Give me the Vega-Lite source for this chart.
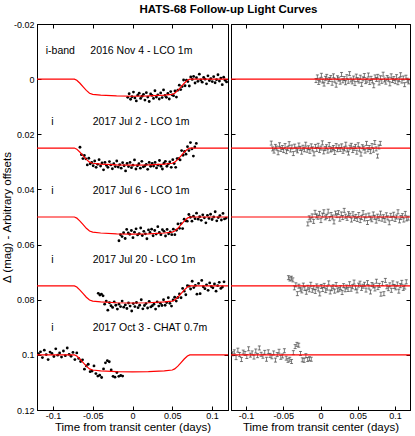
{
"$schema": "https://vega.github.io/schema/vega-lite/v6.json",
"background": "white",
"padding": {"left": 0, "top": 4, "right": 8, "bottom": 0},
"title": {"text": "HATS-68 Follow-up Light Curves", "fontSize": 11.5, "fontWeight": "bold", "font": "Liberation Sans", "color": "black", "anchor": "middle", "offset": 6, "dx": 22, "dy": 2},
"spacing": 0,
"datasets": {
"pts": [
{"t":-0.006,"y":0.0066,"r":0.0005},{"t":-0.0042,"y":0.0053,"r":-0.0008},{"t":-0.0024,"y":0.0073,"r":0.0012},{"t":-0.0006,"y":0.0064,"r":0.0003},{"t":0.0012,"y":0.0047,"r":-0.0014},{"t":0.003,"y":0.0068,"r":0.0007},{"t":0.0048,"y":0.0079,"r":0.0018},{"t":0.0066,"y":0.0058,"r":-0.0003},{"t":0.0084,"y":0.0051,"r":-0.001},{"t":0.0102,"y":0.007,"r":0.0009},{"t":0.012,"y":0.0062,"r":0.0001},{"t":0.0138,"y":0.0055,"r":-0.0006},{"t":0.0156,"y":0.0076,"r":0.0015},{"t":0.0174,"y":0.0049,"r":-0.0012},{"t":0.0192,"y":0.0065,"r":0.0004},{"t":0.021,"y":0.0081,"r":0.0022},{"t":0.0228,"y":0.0054,"r":-0.0005},{"t":0.0246,"y":0.0059,"r":0},{"t":0.0264,"y":0.007,"r":0.0011},{"t":0.0282,"y":0.0042,"r":-0.0017},{"t":0.03,"y":0.0065,"r":0.0006},{"t":0.0318,"y":0.0057,"r":-0.0002},{"t":0.0336,"y":0.0072,"r":0.0013},{"t":0.0354,"y":0.005,"r":-0.0009},{"t":0.0372,"y":0.0067,"r":0.0008},{"t":0.039,"y":0.0039,"r":-0.002},{"t":0.0408,"y":0.0059,"r":0.0003},{"t":0.0426,"y":0.0066,"r":0.001},{"t":0.0444,"y":0.0052,"r":-0.0004},{"t":0.0462,"y":0.0072,"r":0.0016},{"t":0.048,"y":0.0045,"r":-0.0011},{"t":0.0498,"y":0.0057,"r":0.0002},{"t":0.0516,"y":0.006,"r":0.0007},{"t":0.0534,"y":0.0043,"r":-0.0007},{"t":0.0552,"y":0.0065,"r":0.0019},{"t":0.057,"y":0.004,"r":-0.0001},{"t":0.0588,"y":0.0022,"r":-0.0013},{"t":0.0606,"y":0.0038,"r":0.0009},{"t":0.0624,"y":0.0027,"r":0.0004},{"t":0.0642,"y":0.0003,"r":-0.0015},{"t":0.066,"y":0.0024,"r":0.0012},{"t":0.0678,"y":0.0004,"r":-0.0003},{"t":0.0696,"y":0.0009,"r":0.0006},{"t":0.0714,"y":0.0025,"r":0.0024},{"t":0.0732,"y":-0.0008,"r":-0.0008},{"t":0.075,"y":0.0001,"r":0.0001},{"t":0.0768,"y":-0.001,"r":-0.001},{"t":0.0786,"y":0.0014,"r":0.0014},{"t":0.0804,"y":-0.0005,"r":-0.0005},{"t":0.0822,"y":0.0008,"r":0.0008},{"t":0.084,"y":-0.0018,"r":-0.0018},{"t":0.0858,"y":0.0003,"r":0.0003},{"t":0.0876,"y":0.0011,"r":0.0011},{"t":0.0894,"y":-0.0006,"r":-0.0006},{"t":0.0912,"y":0,"r":0},{"t":0.093,"y":0.0017,"r":0.0017},{"t":0.0948,"y":-0.0012,"r":-0.0012},{"t":0.0966,"y":0.0005,"r":0.0005},{"t":0.0984,"y":-0.0002,"r":-0.0002},{"t":0.1002,"y":0.0009,"r":0.0009},{"t":0.102,"y":-0.0009,"r":-0.0009},{"t":0.1038,"y":0.0013,"r":0.0013},{"t":0.1056,"y":0.0002,"r":0.0002},{"t":0.1074,"y":-0.0016,"r":-0.0016},{"t":0.1092,"y":0.0007,"r":0.0007},{"t":0.111,"y":-0.0004,"r":-0.0004},{"t":0.1128,"y":0.002,"r":0.002},{"t":0.1146,"y":-0.0007,"r":-0.0007},{"t":0.1164,"y":0.0004,"r":0.0004},{"t":0.1182,"y":0.001,"r":0.001},
{"t":-0.066,"y":0.0247,"r":0.0232},{"t":-0.0642,"y":0.0274,"r":0.0253},{"t":-0.0623,"y":0.0288,"r":0.0261},{"t":-0.0605,"y":0.0277,"r":0.0244},{"t":-0.0586,"y":0.0289,"r":0.025},{"t":-0.0568,"y":0.0311,"r":0.0267},{"t":-0.0549,"y":0.0287,"r":0.0238},{"t":-0.0531,"y":0.0307,"r":0.0255},{"t":-0.0512,"y":0.0302,"r":0.0248},{"t":-0.0494,"y":0.0314,"r":0.0259},{"t":-0.0475,"y":0.0297,"r":0.0241},{"t":-0.0457,"y":0.032,"r":0.0263},{"t":-0.0438,"y":0.0309,"r":0.0252},{"t":-0.042,"y":0.0292,"r":0.0234},{"t":-0.0401,"y":0.0315,"r":0.0257},{"t":-0.0383,"y":0.0304,"r":0.0246},{"t":-0.0364,"y":0.0329,"r":0.027},{"t":-0.0346,"y":0.0302,"r":0.0243},{"t":-0.0327,"y":0.0313,"r":0.0254},{"t":-0.0309,"y":0.032,"r":0.026},{"t":-0.029,"y":0.0299,"r":0.0239},{"t":-0.0272,"y":0.0311,"r":0.0251},{"t":-0.0253,"y":0.0325,"r":0.0265},{"t":-0.0235,"y":0.0307,"r":0.0247},{"t":-0.0216,"y":0.0317,"r":0.0256},{"t":-0.0198,"y":0.0297,"r":0.0236},{"t":-0.0179,"y":0.0319,"r":0.0258},{"t":-0.0161,"y":0.031,"r":0.0249},{"t":-0.0142,"y":0.0323,"r":0.0262},{"t":-0.0124,"y":0.0303,"r":0.0242},{"t":-0.0105,"y":0.0314,"r":0.0253},{"t":-0.0087,"y":0.0333,"r":0.0271},{"t":-0.0068,"y":0.0306,"r":0.0244},{"t":-0.005,"y":0.0317,"r":0.0255},{"t":-0.0031,"y":0.0302,"r":0.024},{"t":-0.0013,"y":0.0321,"r":0.0259},{"t":0.0006,"y":0.0312,"r":0.025},{"t":0.0025,"y":0.0293,"r":0.0231},{"t":0.0043,"y":0.0326,"r":0.0264},{"t":0.0062,"y":0.0314,"r":0.0252},{"t":0.008,"y":0.0307,"r":0.0245},{"t":0.0099,"y":0.0323,"r":0.0261},{"t":0.0117,"y":0.0298,"r":0.0237},{"t":0.0136,"y":0.0318,"r":0.0257},{"t":0.0154,"y":0.0315,"r":0.0254},{"t":0.0173,"y":0.0309,"r":0.0248},{"t":0.0191,"y":0.0327,"r":0.0266},{"t":0.021,"y":0.0302,"r":0.0241},{"t":0.0228,"y":0.0316,"r":0.0256},{"t":0.0247,"y":0.0306,"r":0.0246},{"t":0.0265,"y":0.0315,"r":0.0255},{"t":0.0284,"y":0.0302,"r":0.0242},{"t":0.0302,"y":0.0322,"r":0.0262},{"t":0.0321,"y":0.0312,"r":0.0253},{"t":0.0339,"y":0.0295,"r":0.0236},{"t":0.0358,"y":0.0316,"r":0.0257},{"t":0.0376,"y":0.0326,"r":0.0268},{"t":0.0395,"y":0.0305,"r":0.0247},{"t":0.0413,"y":0.0298,"r":0.024},{"t":0.0432,"y":0.0316,"r":0.0259},{"t":0.045,"y":0.0308,"r":0.0251},{"t":0.0469,"y":0.03,"r":0.0244},{"t":0.0487,"y":0.032,"r":0.0265},{"t":0.0506,"y":0.0292,"r":0.0238},{"t":0.0524,"y":0.0306,"r":0.0254},{"t":0.0543,"y":0.032,"r":0.0272},{"t":0.0561,"y":0.0288,"r":0.0245},{"t":0.058,"y":0.0288,"r":0.025},{"t":0.0598,"y":0.0293,"r":0.0261},{"t":0.0617,"y":0.0259,"r":0.0233},{"t":0.0635,"y":0.0276,"r":0.0256},{"t":0.0654,"y":0.0262,"r":0.0248},{"t":0.0672,"y":0.0272,"r":0.0263},{"t":0.0691,"y":0.0245,"r":0.0241},{"t":0.0709,"y":0.0259,"r":0.0258},{"t":0.0728,"y":0.023,"r":0.023},{"t":0.0746,"y":0.0253,"r":0.0253},{"t":0.0765,"y":0.0279,"r":0.0279},{"t":0.0783,"y":0.0246,"r":0.0246},{"t":0.0802,"y":0.0233,"r":0.0233},
{"t":-0.017,"y":0.0586,"r":0.0525},{"t":-0.0151,"y":0.0564,"r":0.0503},{"t":-0.0131,"y":0.0571,"r":0.051},{"t":-0.0112,"y":0.0557,"r":0.0496},{"t":-0.0092,"y":0.0578,"r":0.0516},{"t":-0.0073,"y":0.0545,"r":0.0483},{"t":-0.0053,"y":0.0558,"r":0.0496},{"t":-0.0034,"y":0.0563,"r":0.0501},{"t":-0.0014,"y":0.0549,"r":0.0487},{"t":0.0006,"y":0.0575,"r":0.0513},{"t":0.0025,"y":0.0555,"r":0.0493},{"t":0.0045,"y":0.0543,"r":0.0481},{"t":0.0064,"y":0.0565,"r":0.0503},{"t":0.0084,"y":0.056,"r":0.0498},{"t":0.0103,"y":0.054,"r":0.0479},{"t":0.0123,"y":0.0567,"r":0.0506},{"t":0.0142,"y":0.0552,"r":0.0491},{"t":0.0162,"y":0.0561,"r":0.05},{"t":0.0181,"y":0.0579,"r":0.0518},{"t":0.0201,"y":0.0547,"r":0.0486},{"t":0.022,"y":0.0556,"r":0.0495},{"t":0.024,"y":0.0544,"r":0.0484},{"t":0.0259,"y":0.0568,"r":0.0508},{"t":0.0279,"y":0.0549,"r":0.0489},{"t":0.0298,"y":0.0562,"r":0.0502},{"t":0.0318,"y":0.0535,"r":0.0476},{"t":0.0337,"y":0.0556,"r":0.0497},{"t":0.0357,"y":0.0564,"r":0.0505},{"t":0.0376,"y":0.0546,"r":0.0488},{"t":0.0396,"y":0.0552,"r":0.0494},{"t":0.0415,"y":0.0569,"r":0.0511},{"t":0.0435,"y":0.0545,"r":0.0488},{"t":0.0454,"y":0.0561,"r":0.0505},{"t":0.0474,"y":0.0554,"r":0.0498},{"t":0.0493,"y":0.0564,"r":0.0509},{"t":0.0513,"y":0.0544,"r":0.0491},{"t":0.0532,"y":0.0564,"r":0.0513},{"t":0.0552,"y":0.0548,"r":0.0502},{"t":0.0571,"y":0.0525,"r":0.0484},{"t":0.0591,"y":0.0541,"r":0.0507},{"t":0.061,"y":0.0524,"r":0.0496},{"t":0.063,"y":0.0542,"r":0.052},{"t":0.0649,"y":0.0508,"r":0.0493},{"t":0.0669,"y":0.0514,"r":0.0504},{"t":0.0688,"y":0.0515,"r":0.051},{"t":0.0708,"y":0.0491,"r":0.0489},{"t":0.0727,"y":0.0501,"r":0.0501},{"t":0.0747,"y":0.0515,"r":0.0515},{"t":0.0766,"y":0.0497,"r":0.0497},{"t":0.0786,"y":0.0506,"r":0.0506},{"t":0.0805,"y":0.0486,"r":0.0486},{"t":0.0825,"y":0.0508,"r":0.0508},{"t":0.0844,"y":0.0499,"r":0.0499},{"t":0.0864,"y":0.0512,"r":0.0512},{"t":0.0883,"y":0.0492,"r":0.0492},{"t":0.0903,"y":0.0503,"r":0.0503},{"t":0.0922,"y":0.0521,"r":0.0521},{"t":0.0942,"y":0.0494,"r":0.0494},{"t":0.0961,"y":0.0505,"r":0.0505},{"t":0.0981,"y":0.049,"r":0.049},{"t":0.1,"y":0.0509,"r":0.0509},{"t":0.102,"y":0.05,"r":0.05},{"t":0.1039,"y":0.0481,"r":0.0481},{"t":0.1059,"y":0.0514,"r":0.0514},{"t":0.1078,"y":0.0502,"r":0.0502},{"t":0.1098,"y":0.0495,"r":0.0495},{"t":0.1117,"y":0.0511,"r":0.0511},{"t":0.1137,"y":0.0487,"r":0.0487},{"t":0.1156,"y":0.0507,"r":0.0507},{"t":0.1176,"y":0.0504,"r":0.0504},
{"t":-0.043,"y":0.0777,"r":0.072},{"t":-0.041,"y":0.0783,"r":0.0725},{"t":-0.039,"y":0.078,"r":0.0722},{"t":-0.037,"y":0.0786,"r":0.0728},{"t":-0.035,"y":0.0816,"r":0.0757},{"t":-0.033,"y":0.0805,"r":0.0746},{"t":-0.031,"y":0.0838,"r":0.0778},{"t":-0.029,"y":0.0811,"r":0.0751},{"t":-0.027,"y":0.0822,"r":0.0762},{"t":-0.025,"y":0.0828,"r":0.0768},{"t":-0.023,"y":0.0808,"r":0.0747},{"t":-0.021,"y":0.082,"r":0.0759},{"t":-0.019,"y":0.0834,"r":0.0773},{"t":-0.017,"y":0.0816,"r":0.0755},{"t":-0.015,"y":0.0825,"r":0.0764},{"t":-0.013,"y":0.0805,"r":0.0744},{"t":-0.011,"y":0.0827,"r":0.0766},{"t":-0.009,"y":0.0819,"r":0.0757},{"t":-0.007,"y":0.0832,"r":0.077},{"t":-0.005,"y":0.0812,"r":0.075},{"t":-0.003,"y":0.0823,"r":0.0761},{"t":-0.001,"y":0.0841,"r":0.0779},{"t":0.001,"y":0.0814,"r":0.0752},{"t":0.003,"y":0.0825,"r":0.0763},{"t":0.005,"y":0.081,"r":0.0748},{"t":0.007,"y":0.0829,"r":0.0767},{"t":0.009,"y":0.082,"r":0.0758},{"t":0.011,"y":0.08,"r":0.0739},{"t":0.013,"y":0.0833,"r":0.0772},{"t":0.015,"y":0.0821,"r":0.076},{"t":0.017,"y":0.0814,"r":0.0753},{"t":0.019,"y":0.083,"r":0.0769},{"t":0.021,"y":0.0806,"r":0.0745},{"t":0.023,"y":0.0826,"r":0.0765},{"t":0.025,"y":0.0822,"r":0.0762},{"t":0.027,"y":0.0816,"r":0.0756},{"t":0.029,"y":0.0834,"r":0.0774},{"t":0.031,"y":0.0808,"r":0.0749},{"t":0.033,"y":0.0823,"r":0.0764},{"t":0.035,"y":0.0813,"r":0.0754},{"t":0.037,"y":0.0821,"r":0.0763},{"t":0.039,"y":0.08,"r":0.0742},{"t":0.041,"y":0.082,"r":0.0762},{"t":0.043,"y":0.081,"r":0.0753},{"t":0.045,"y":0.0793,"r":0.0736},{"t":0.047,"y":0.0813,"r":0.0757},{"t":0.049,"y":0.0823,"r":0.0768},{"t":0.051,"y":0.0801,"r":0.0747},{"t":0.053,"y":0.0791,"r":0.074},{"t":0.055,"y":0.0805,"r":0.0759},{"t":0.057,"y":0.0792,"r":0.0751},{"t":0.059,"y":0.0779,"r":0.0744},{"t":0.061,"y":0.0793,"r":0.0765},{"t":0.063,"y":0.0759,"r":0.0738},{"t":0.065,"y":0.0769,"r":0.0754},{"t":0.067,"y":0.0782,"r":0.0772},{"t":0.069,"y":0.0749,"r":0.0745},{"t":0.071,"y":0.0751,"r":0.075},{"t":0.073,"y":0.0761,"r":0.0761},{"t":0.075,"y":0.0733,"r":0.0733},{"t":0.077,"y":0.0756,"r":0.0756},{"t":0.079,"y":0.0748,"r":0.0748},{"t":0.081,"y":0.078,"r":0.078},{"t":0.083,"y":0.0741,"r":0.0741},{"t":0.085,"y":0.0778,"r":0.0778},{"t":0.087,"y":0.073,"r":0.073},{"t":0.089,"y":0.0753,"r":0.0753},{"t":0.091,"y":0.076,"r":0.076},{"t":0.093,"y":0.0746,"r":0.0746},{"t":0.095,"y":0.0766,"r":0.0766},{"t":0.097,"y":0.0739,"r":0.0739},{"t":0.099,"y":0.0752,"r":0.0752},{"t":0.101,"y":0.0757,"r":0.0757},{"t":0.103,"y":0.0743,"r":0.0743},{"t":0.105,"y":0.0769,"r":0.0769},{"t":0.107,"y":0.0749,"r":0.0749},{"t":0.109,"y":0.0737,"r":0.0737},{"t":0.111,"y":0.0759,"r":0.0759},{"t":0.113,"y":0.0754,"r":0.0754},{"t":0.115,"y":0.0735,"r":0.0735},
{"t":-0.118,"y":0.0996,"r":0.0996},{"t":-0.1156,"y":0.0989,"r":0.0989},{"t":-0.1132,"y":0.101,"r":0.101},{"t":-0.1108,"y":0.0983,"r":0.0983},{"t":-0.1084,"y":0.0999,"r":0.0999},{"t":-0.106,"y":0.1017,"r":0.1017},{"t":-0.1036,"y":0.099,"r":0.099},{"t":-0.1012,"y":0.0995,"r":0.0995},{"t":-0.0988,"y":0.1006,"r":0.1006},{"t":-0.0964,"y":0.0978,"r":0.0978},{"t":-0.094,"y":0.1001,"r":0.1001},{"t":-0.0916,"y":0.0993,"r":0.0993},{"t":-0.0892,"y":0.1008,"r":0.1008},{"t":-0.0868,"y":0.0986,"r":0.0986},{"t":-0.0844,"y":0.1003,"r":0.1003},{"t":-0.082,"y":0.0975,"r":0.0975},{"t":-0.0796,"y":0.0998,"r":0.0998},{"t":-0.0772,"y":0.1005,"r":0.1005},{"t":-0.0748,"y":0.0991,"r":0.0991},{"t":-0.0724,"y":0.1017,"r":0.1016},{"t":-0.07,"y":0.0993,"r":0.0989},{"t":-0.0676,"y":0.1013,"r":0.1002},{"t":-0.0652,"y":0.1024,"r":0.1007},{"t":-0.0628,"y":0.1018,"r":0.0993},{"t":-0.0604,"y":0.1052,"r":0.1019},{"t":-0.058,"y":0.104,"r":0.0999},{"t":-0.0556,"y":0.1034,"r":0.0987},{"t":-0.0532,"y":0.1061,"r":0.1009},{"t":-0.0508,"y":0.1059,"r":0.1004},{"t":-0.0484,"y":0.104,"r":0.0985},{"t":-0.046,"y":0.1068,"r":0.1012},{"t":-0.0436,"y":0.1077,"r":0.102},{"t":-0.0412,"y":0.1074,"r":0.1016},{"t":-0.0388,"y":0.1082,"r":0.1024},{"t":-0.0364,"y":0.1051,"r":0.0992},{"t":-0.034,"y":0.1029,"r":0.097},{"t":-0.0316,"y":0.1021,"r":0.0962},{"t":-0.0292,"y":0.1025,"r":0.0965},{"t":-0.0268,"y":0.1055,"r":0.0995},{"t":-0.0244,"y":0.1078,"r":0.1018},{"t":-0.022,"y":0.1081,"r":0.102},{"t":-0.0196,"y":0.1064,"r":0.1003},{"t":-0.0172,"y":0.1078,"r":0.1017},{"t":-0.0148,"y":0.1075,"r":0.1014},{"t":-0.0124,"y":0.1077,"r":0.1016}
],
"model": [
{"c":1,"t":-0.12,"y":0},{"c":1,"t":-0.073,"y":0},{"c":1,"t":-0.07,"y":0.0004},{"c":1,"t":-0.066,"y":0.0015},{"c":1,"t":-0.062,"y":0.0028},{"c":1,"t":-0.058,"y":0.0041},{"c":1,"t":-0.054,"y":0.0051},{"c":1,"t":-0.05,"y":0.0055},{"c":1,"t":-0.04,"y":0.0058},{"c":1,"t":-0.02,"y":0.0061},{"c":1,"t":0,"y":0.0062},{"c":1,"t":0.02,"y":0.0061},{"c":1,"t":0.04,"y":0.0058},{"c":1,"t":0.05,"y":0.0055},{"c":1,"t":0.053,"y":0.0051},{"c":1,"t":0.057,"y":0.0041},{"c":1,"t":0.061,"y":0.0028},{"c":1,"t":0.065,"y":0.0015},{"c":1,"t":0.069,"y":0.0004},{"c":1,"t":0.072,"y":0},{"c":1,"t":0.12,"y":0},
{"c":2,"t":-0.12,"y":0.025},{"c":2,"t":-0.073,"y":0.025},{"c":2,"t":-0.07,"y":0.0254},{"c":2,"t":-0.066,"y":0.0265},{"c":2,"t":-0.062,"y":0.0278},{"c":2,"t":-0.058,"y":0.0291},{"c":2,"t":-0.054,"y":0.0301},{"c":2,"t":-0.05,"y":0.0305},{"c":2,"t":-0.04,"y":0.0308},{"c":2,"t":-0.02,"y":0.0311},{"c":2,"t":0,"y":0.0312},{"c":2,"t":0.02,"y":0.0311},{"c":2,"t":0.04,"y":0.0308},{"c":2,"t":0.05,"y":0.0305},{"c":2,"t":0.053,"y":0.0301},{"c":2,"t":0.057,"y":0.0291},{"c":2,"t":0.061,"y":0.0278},{"c":2,"t":0.065,"y":0.0265},{"c":2,"t":0.069,"y":0.0254},{"c":2,"t":0.072,"y":0.025},{"c":2,"t":0.12,"y":0.025},
{"c":3,"t":-0.12,"y":0.05},{"c":3,"t":-0.073,"y":0.05},{"c":3,"t":-0.07,"y":0.0504},{"c":3,"t":-0.066,"y":0.0515},{"c":3,"t":-0.062,"y":0.0528},{"c":3,"t":-0.058,"y":0.0541},{"c":3,"t":-0.054,"y":0.0551},{"c":3,"t":-0.05,"y":0.0555},{"c":3,"t":-0.04,"y":0.0558},{"c":3,"t":-0.02,"y":0.0561},{"c":3,"t":0,"y":0.0562},{"c":3,"t":0.02,"y":0.0561},{"c":3,"t":0.04,"y":0.0558},{"c":3,"t":0.05,"y":0.0555},{"c":3,"t":0.053,"y":0.0551},{"c":3,"t":0.057,"y":0.0541},{"c":3,"t":0.061,"y":0.0528},{"c":3,"t":0.065,"y":0.0515},{"c":3,"t":0.069,"y":0.0504},{"c":3,"t":0.072,"y":0.05},{"c":3,"t":0.12,"y":0.05},
{"c":4,"t":-0.12,"y":0.075},{"c":4,"t":-0.073,"y":0.075},{"c":4,"t":-0.07,"y":0.0754},{"c":4,"t":-0.066,"y":0.0765},{"c":4,"t":-0.062,"y":0.0778},{"c":4,"t":-0.058,"y":0.0791},{"c":4,"t":-0.054,"y":0.0801},{"c":4,"t":-0.05,"y":0.0805},{"c":4,"t":-0.04,"y":0.0808},{"c":4,"t":-0.02,"y":0.0811},{"c":4,"t":0,"y":0.0812},{"c":4,"t":0.02,"y":0.0811},{"c":4,"t":0.04,"y":0.0808},{"c":4,"t":0.05,"y":0.0805},{"c":4,"t":0.053,"y":0.0801},{"c":4,"t":0.057,"y":0.0791},{"c":4,"t":0.061,"y":0.0778},{"c":4,"t":0.065,"y":0.0765},{"c":4,"t":0.069,"y":0.0754},{"c":4,"t":0.072,"y":0.075},{"c":4,"t":0.12,"y":0.075},
{"c":5,"t":-0.12,"y":0.1},{"c":5,"t":-0.073,"y":0.1},{"c":5,"t":-0.07,"y":0.1004},{"c":5,"t":-0.066,"y":0.1015},{"c":5,"t":-0.062,"y":0.1028},{"c":5,"t":-0.058,"y":0.1041},{"c":5,"t":-0.054,"y":0.1051},{"c":5,"t":-0.05,"y":0.1055},{"c":5,"t":-0.04,"y":0.1058},{"c":5,"t":-0.02,"y":0.1061},{"c":5,"t":0,"y":0.1062},{"c":5,"t":0.02,"y":0.1061},{"c":5,"t":0.04,"y":0.1058},{"c":5,"t":0.05,"y":0.1055},{"c":5,"t":0.053,"y":0.1051},{"c":5,"t":0.057,"y":0.1041},{"c":5,"t":0.061,"y":0.1028},{"c":5,"t":0.065,"y":0.1015},{"c":5,"t":0.069,"y":0.1004},{"c":5,"t":0.072,"y":0.1},{"c":5,"t":0.12,"y":0.1}
],
"labels": [
{"t":-0.109,"y":-0.0101,"txt":"i-band"},{"t":-0.053,"y":-0.0101,"txt":"2016 Nov 4 - LCO 1m"},
{"t":-0.102,"y":0.0155,"txt":"i"},{"t":-0.05,"y":0.0155,"txt":"2017 Jul 2 - LCO 1m"},
{"t":-0.102,"y":0.0406,"txt":"i"},{"t":-0.05,"y":0.0406,"txt":"2017 Jul 6 - LCO 1m"},
{"t":-0.102,"y":0.0656,"txt":"i"},{"t":-0.05,"y":0.0656,"txt":"2017 Jul 20 - LCO 1m"},
{"t":-0.102,"y":0.0902,"txt":"i"},{"t":-0.05,"y":0.0902,"txt":"2017 Oct 3 - CHAT 0.7m"}
],
"offs": [{"o":0},{"o":0.025},{"o":0.05},{"o":0.075},{"o":0.1}]
},
"hconcat": [
{
"width": 191, "height": 386,
"layer": [
{"data": {"name": "pts"}, "mark": {"type": "circle", "size": 8, "color": "black", "opacity": 1, "clip": true},
 "encoding": {
  "x": {"field": "t", "type": "quantitative", "scale": {"domain": [-0.12, 0.12], "nice": false, "zero": false}, "axis": {"values": [-0.1, -0.05, 0, 0.05, 0.1], "title": "Time from transit center (days)", "labelExpr": "datum.value + ''"}},
  "y": {"field": "y", "type": "quantitative", "scale": {"domain": [-0.02, 0.12], "reverse": true, "nice": false, "zero": false}, "axis": {"values": [-0.02, 0, 0.02, 0.04, 0.06, 0.08, 0.1, 0.12], "title": "Δ (mag) - Arbitrary offsets", "labelExpr": "datum.value + ''"}}
 }},
{"data": {"name": "model"}, "mark": {"type": "line", "color": "#ff0000", "strokeWidth": 1.2, "clip": true},
 "encoding": {
  "x": {"field": "t", "type": "quantitative", "scale": {"domain": [-0.12, 0.12], "nice": false, "zero": false}, "axis": {"orient": "top", "labels": false, "title": null, "values": [-0.1, -0.05, 0, 0.05, 0.1]}},
  "y": {"field": "y", "type": "quantitative", "scale": {"domain": [-0.02, 0.12], "reverse": true, "nice": false, "zero": false}, "axis": {"orient": "right", "labels": false, "title": null, "values": [-0.02, 0, 0.02, 0.04, 0.06, 0.08, 0.1, 0.12]}},
  "detail": {"field": "c"}
 }},
{"data": {"name": "labels"}, "mark": {"type": "text", "align": "left", "baseline": "middle", "fontSize": 10.5, "font": "Liberation Sans", "color": "black"},
 "encoding": {
  "x": {"field": "t", "type": "quantitative", "scale": {"domain": [-0.12, 0.12], "nice": false, "zero": false}, "axis": null},
  "y": {"field": "y", "type": "quantitative", "scale": {"domain": [-0.02, 0.12], "reverse": true, "nice": false, "zero": false}, "axis": null},
  "text": {"field": "txt"}
 }}
],
"resolve": {"axis": {"x": "independent", "y": "independent"}}
},
{
"width": 179, "height": 386,
"layer": [
{"data": {"name": "pts"}, "mark": {"type": "point", "shape": "M-0.75,-1H0.75M0,-1V1M-0.75,1H0.75", "size": 16, "filled": false, "color": "#444444", "strokeWidth": 0.7, "opacity": 1, "clip": true},
 "encoding": {
  "x": {"field": "t", "type": "quantitative", "scale": {"domain": [-0.12, 0.12], "nice": false, "zero": false}, "axis": {"values": [-0.1, -0.05, 0, 0.05, 0.1], "title": "Time from transit center (days)", "labelExpr": "datum.value + ''"}},
  "y": {"field": "r", "type": "quantitative", "scale": {"domain": [-0.02, 0.12], "reverse": true, "nice": false, "zero": false}, "axis": {"values": [-0.02, 0, 0.02, 0.04, 0.06, 0.08, 0.1, 0.12], "labels": false, "title": null}}
 }},
{"data": {"name": "offs"}, "mark": {"type": "rule", "color": "#ff0000", "strokeWidth": 1.2},
 "encoding": {
  "y": {"field": "o", "type": "quantitative", "scale": {"domain": [-0.02, 0.12], "reverse": true, "nice": false, "zero": false}, "axis": {"orient": "right", "labels": false, "title": null, "values": [-0.02, 0, 0.02, 0.04, 0.06, 0.08, 0.1, 0.12]}}
 }},
{"data": {"name": "pts"}, "mark": {"type": "point", "opacity": 0},
 "encoding": {
  "x": {"field": "t", "type": "quantitative", "scale": {"domain": [-0.12, 0.12], "nice": false, "zero": false}, "axis": {"orient": "top", "labels": false, "title": null, "values": [-0.1, -0.05, 0, 0.05, 0.1]}},
  "y": {"field": "r", "type": "quantitative", "scale": {"domain": [-0.02, 0.12], "reverse": true, "nice": false, "zero": false}, "axis": null}
 }}
],
"resolve": {"axis": {"x": "independent", "y": "independent"}}
}
],
"config": {
 "font": "Liberation Sans",
 "view": {"stroke": "black", "strokeWidth": 1},
 "axis": {"grid": false, "domainColor": "black", "tickColor": "black", "labelColor": "black", "titleColor": "black", "labelFont": "Liberation Sans", "titleFont": "Liberation Sans", "labelFontSize": 9, "titleFontSize": 11.5, "titleFontWeight": "normal", "tickSize": -4, "labelPadding": 7, "labelOverlap": false, "labelFlush": false, "minExtent": 0, "domainWidth": 1, "tickWidth": 1},
 "axisX": {"labelPadding": 5, "titlePadding": 1},
 "axisY": {"titlePadding": 1}
}
}
